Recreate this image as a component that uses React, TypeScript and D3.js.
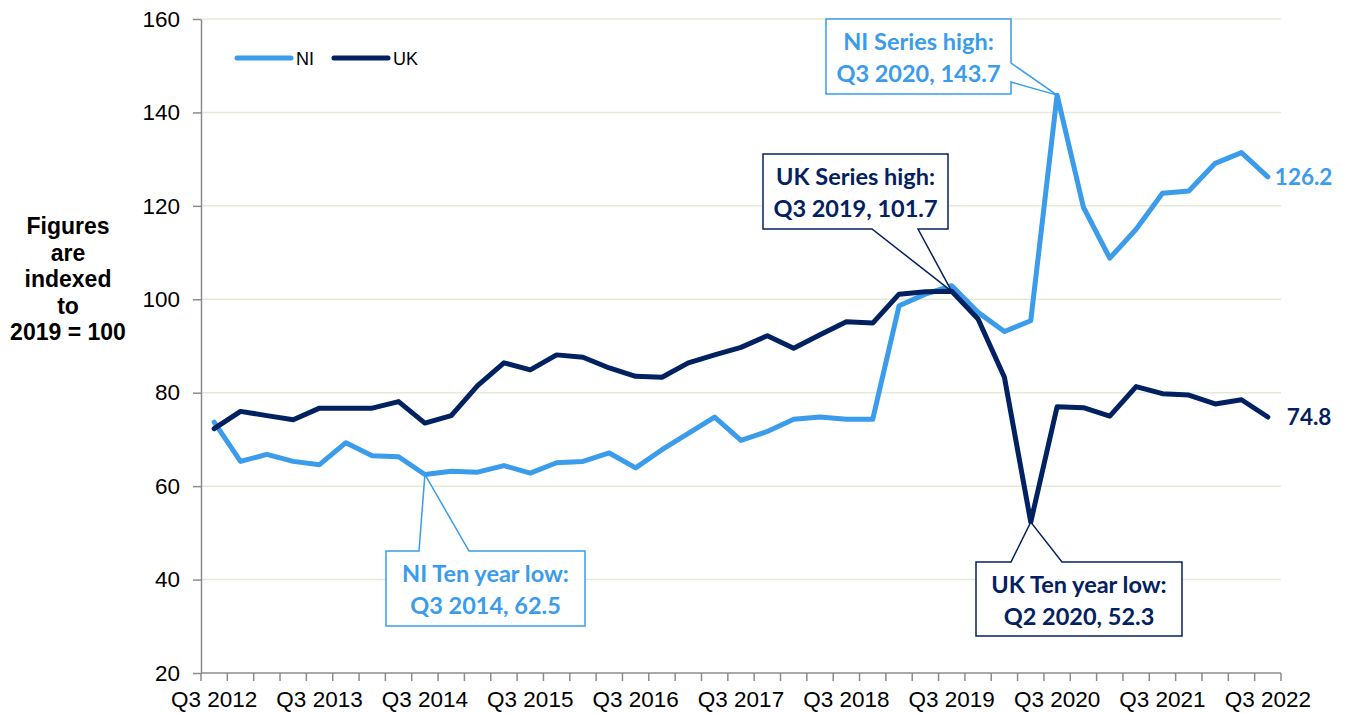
import React, { useRef, useEffect } from "react";
import * as d3 from "d3";

const quarters = [
  "Q3 2012", "Q4 2012",
  "Q1 2013", "Q2 2013", "Q3 2013", "Q4 2013",
  "Q1 2014", "Q2 2014", "Q3 2014", "Q4 2014",
  "Q1 2015", "Q2 2015", "Q3 2015", "Q4 2015",
  "Q1 2016", "Q2 2016", "Q3 2016", "Q4 2016",
  "Q1 2017", "Q2 2017", "Q3 2017", "Q4 2017",
  "Q1 2018", "Q2 2018", "Q3 2018", "Q4 2018",
  "Q1 2019", "Q2 2019", "Q3 2019", "Q4 2019",
  "Q1 2020", "Q2 2020", "Q3 2020", "Q4 2020",
  "Q1 2021", "Q2 2021", "Q3 2021", "Q4 2021",
  "Q1 2022", "Q2 2022", "Q3 2022",
];

const niValues = [
  73.7, 65.3, 66.8, 65.3, 64.6, 69.3, 66.5, 66.3, 62.5, 63.2,
  63.0, 64.4, 62.8, 65.0, 65.3, 67.1, 63.9, 67.8, 71.3, 74.8,
  69.8, 71.7, 74.3, 74.8, 74.3, 74.3, 98.6, 101.1, 102.9, 97.2,
  93.1, 95.4, 143.7, 119.7, 108.8, 115.0, 122.7, 123.2, 129.1, 131.4,
  126.2,
];

const ukValues = [
  72.3, 76.0, 75.1, 74.2, 76.7, 76.7, 76.7, 78.1, 73.5, 75.1,
  81.5, 86.4, 84.9, 88.1, 87.6, 85.3, 83.5, 83.3, 86.4, 88.1,
  89.7, 92.2, 89.5, 92.4, 95.2, 94.9, 101.1, 101.6, 101.7, 95.8,
  83.3, 52.3, 77.0, 76.8, 75.0, 81.3, 79.8, 79.5, 77.6, 78.5,
  74.8,
];

const yTicks = [20, 40, 60, 80, 100, 120, 140, 160];
const xLabels = ["Q3 2012", "Q3 2013", "Q3 2014", "Q3 2015", "Q3 2016", "Q3 2017",
  "Q3 2018", "Q3 2019", "Q3 2020", "Q3 2021", "Q3 2022"];
const yTitle = ["Figures", "are", "indexed", "to", "2019 = 100"];

// callouts: which series, which quarter, text
const callouts = [
  { series: "NI", quarter: "Q3 2020", lines: ["NI Series high:", "Q3 2020, 143.7"] },
  { series: "UK", quarter: "Q3 2019", lines: ["UK Series high:", "Q3 2019, 101.7"] },
  { series: "NI", quarter: "Q3 2014", lines: ["NI Ten year low:", "Q3 2014, 62.5"] },
  { series: "UK", quarter: "Q2 2020", lines: ["UK Ten year low:", "Q2 2020, 52.3"] },
];
// box placement for each callout (same order)
const calloutBoxes = [
  { x: 826, y: 19, w: 185, h: 75, side: "right", base: [63, 82] },
  { x: 763, y: 154, w: 185, h: 75, side: "bottom", base: [872, 918] },
  { x: 386, y: 551, w: 199, h: 75, side: "top", base: [419, 469] },
  { x: 976, y: 562, w: 206, h: 74, side: "top", base: [1011, 1062] },
];

const NI_COLOR = "#3A9CEB";
const UK_COLOR = "#022161";
const AXIS_FONT = "'Liberation Sans', Arial, sans-serif";
const NOTE_FONT = "Lato, 'Open Sans', sans-serif";

export default function App() {
  const svgRef = useRef<SVGSVGElement>(null);

  useEffect(() => {
    const width = 1351;
    const height = 714;
    const plot = { left: 201, right: 1281, top: 19, bottom: 673 };

    const svg = d3.select(svgRef.current).attr("width", width).attr("height", height);
    svg.selectAll("*").remove();

    const x = d3.scaleBand<string>().domain(quarters).range([plot.left, plot.right]).padding(0);
    const cx = (q: string) => (x(q) as number) + x.bandwidth() / 2;
    const y = d3.scaleLinear().domain([20, 160]).range([plot.bottom, plot.top]);

    // gridlines
    svg.append("g")
      .selectAll("line")
      .data(yTicks.filter((t) => t !== 20))
      .enter()
      .append("line")
      .attr("x1", plot.left)
      .attr("x2", plot.right)
      .attr("y1", (d) => y(d))
      .attr("y2", (d) => y(d))
      .attr("stroke", "#E4EBD5")
      .attr("stroke-width", 1.5);

    // y axis
    const yAxis = svg.append("g")
      .attr("transform", `translate(${plot.left},0)`)
      .call(d3.axisLeft(y).tickValues(yTicks).tickSize(8).tickSizeOuter(0).tickPadding(13));
    yAxis.select(".domain").attr("stroke", "#8C8C8C").attr("stroke-width", 1.5);
    yAxis.selectAll(".tick line").attr("stroke", "#8C8C8C").attr("stroke-width", 1.5);
    yAxis.selectAll(".tick text")
      .attr("fill", "#000")
      .style("font-family", AXIS_FONT)
      .style("font-size", "22.5px");

    // x axis
    const xAxis = svg.append("g");
    xAxis.append("line")
      .attr("x1", plot.left).attr("x2", plot.right)
      .attr("y1", plot.bottom).attr("y2", plot.bottom)
      .attr("stroke", "#8C8C8C").attr("stroke-width", 1.5);
    const bounds = quarters.map((q) => x(q) as number).concat([plot.right]);
    xAxis.selectAll(".xtick")
      .data(bounds)
      .enter()
      .append("line")
      .attr("class", "xtick")
      .attr("x1", (d) => d).attr("x2", (d) => d)
      .attr("y1", plot.bottom).attr("y2", plot.bottom + 8)
      .attr("stroke", "#8C8C8C").attr("stroke-width", 1.5);
    xAxis.selectAll(".xlabel")
      .data(xLabels)
      .enter()
      .append("text")
      .attr("class", "xlabel")
      .attr("x", (d) => cx(d))
      .attr("y", 707)
      .attr("text-anchor", "middle")
      .style("font-family", AXIS_FONT)
      .style("font-size", "22.5px")
      .text((d) => d);

    // y title
    svg.append("text")
      .attr("text-anchor", "middle")
      .style("font-family", AXIS_FONT)
      .style("font-size", "23px")
      .style("font-weight", "bold")
      .selectAll("tspan")
      .data(yTitle)
      .enter()
      .append("tspan")
      .attr("x", 68)
      .attr("y", (d, i) => 234 + i * 26.5)
      .text((d) => d);

    // lines
    const series = [
      { name: "NI", values: niValues, color: NI_COLOR },
      { name: "UK", values: ukValues, color: UK_COLOR },
    ];
    const line = d3.line<number>()
      .x((d, i) => cx(quarters[i]))
      .y((d) => y(d));

    series.forEach((s) => {
      svg.append("path")
        .datum(s.values)
        .attr("d", line)
        .attr("fill", "none")
        .attr("stroke", s.color)
        .attr("stroke-width", 5)
        .attr("stroke-linejoin", "round")
        .attr("stroke-linecap", "round");
    });

    // end labels
    series.forEach((s) => {
      const last = s.values[s.values.length - 1];
      svg.append("text")
        .attr("x", cx(quarters[quarters.length - 1]) + (s.name === "NI" ? 7 : 19))
        .attr("y", y(last) + 8)
        .attr("fill", s.color)
        .style("font-family", NOTE_FONT)
        .style("font-weight", "bold")
        .style("font-size", "22.5px")
        .text(last.toFixed(1));
    });

    // legend
    const legend = svg.append("g");
    const legendItems = [
      { name: "NI", color: NI_COLOR, x: 237 },
      { name: "UK", color: UK_COLOR, x: 334 },
    ];
    legendItems.forEach((item) => {
      legend.append("line")
        .attr("x1", item.x).attr("x2", item.x + 54)
        .attr("y1", 58).attr("y2", 58)
        .attr("stroke", item.color)
        .attr("stroke-width", 5)
        .attr("stroke-linecap", "round");
      legend.append("text")
        .attr("x", item.x + 59)
        .attr("y", 65)
        .style("font-family", AXIS_FONT)
        .style("font-size", "18px")
        .text(item.name);
    });

    // callouts
    callouts.forEach((c, i) => {
      const b = calloutBoxes[i];
      const vals = c.series === "NI" ? niValues : ukValues;
      const color = c.series === "NI" ? NI_COLOR : UK_COLOR;
      const tx = cx(c.quarter);
      const ty = y(vals[quarters.indexOf(c.quarter)]);
      const r = b.x + b.w;
      const btm = b.y + b.h;
      const p = d3.path();
      p.moveTo(b.x, b.y);
      if (b.side === "top") {
        p.lineTo(b.base[0], b.y);
        p.lineTo(tx, ty);
        p.lineTo(b.base[1], b.y);
        p.lineTo(r, b.y);
        p.lineTo(r, btm);
        p.lineTo(b.x, btm);
      } else if (b.side === "bottom") {
        p.lineTo(r, b.y);
        p.lineTo(r, btm);
        p.lineTo(b.base[1], btm);
        p.lineTo(tx, ty);
        p.lineTo(b.base[0], btm);
        p.lineTo(b.x, btm);
      } else {
        p.lineTo(r, b.y);
        p.lineTo(r, b.base[0]);
        p.lineTo(tx, ty);
        p.lineTo(r, b.base[1]);
        p.lineTo(r, btm);
        p.lineTo(b.x, btm);
      }
      p.closePath();
      svg.append("path")
        .attr("d", p.toString())
        .attr("fill", "#fff")
        .attr("stroke", color)
        .attr("stroke-width", 1.5)
        .attr("stroke-linejoin", "miter");
      svg.append("text")
        .attr("text-anchor", "middle")
        .attr("fill", color)
        .style("font-family", NOTE_FONT)
        .style("font-weight", "bold")
        .style("font-size", "23.5px")
        .selectAll("tspan")
        .data(c.lines)
        .enter()
        .append("tspan")
        .attr("x", b.x + b.w / 2)
        .attr("y", (d, k) => b.y + 31 + k * 32)
        .text((d) => d);
    });
  }, []);

  return (
    <div style={{ position: "absolute", left: 0, top: 0 }}>
      <svg ref={svgRef} style={{ display: "block", background: "#fff" }}></svg>
    </div>
  );
}
